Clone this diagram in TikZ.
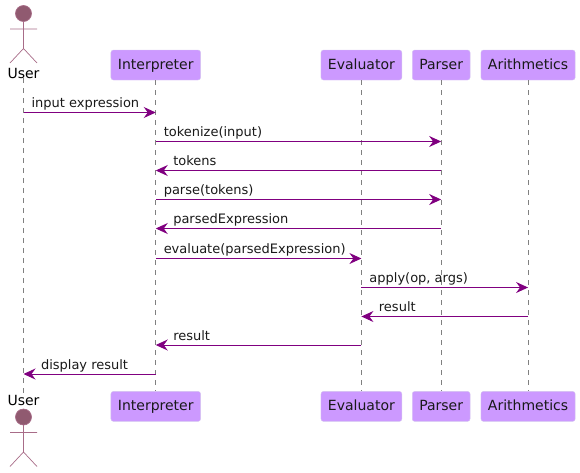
\documentclass[tikz,border=0pt]{standalone}
\usepackage{fontspec}
\setmainfont{DejaVu Sans}
\usetikzlibrary{positioning,arrows.meta}
\definecolor{msgcol}{HTML}{800080}
\definecolor{boxcol}{HTML}{CC99FF}
\definecolor{boxline}{HTML}{D4C4F0}
\definecolor{actorcol}{HTML}{905A70}
\definecolor{actorline}{HTML}{A86C88}
\definecolor{lifecol}{HTML}{808080}

\begin{document}
\begin{tikzpicture}[x=1pt, y=-1pt, font=\fontsize{13}{15}\selectfont,
        partbox/.style={draw=boxline, fill=boxcol, rectangle, rounded corners=2.5pt, minimum height=30pt, inner xsep=7pt, inner ysep=0pt, text height=11pt, text depth=2pt, text=black!90, font=\fontsize{14}{16}\selectfont},
        lifeline/.style={draw=lifecol, dash pattern=on 5pt off 5pt, line width=0.7pt},
        msg/.style={draw=msgcol, line width=1pt, -{Stealth[length=12pt, width=11pt, inset=4pt]}},
        msgtext/.style={text=black!90, anchor=base west, inner sep=0pt},
        actorfig/.pic={
            \draw[draw=actorline, fill=actorcol, line width=0.7pt] (0,0) circle (8pt);
            \draw[draw=actorline, line width=0.7pt] (0,8) -- (0,35) (-13.5,15.5) -- (13.5,15.5) (-13.5,49.5) -- (0,35) -- (13.5,49.5);
        }
    ]
        \useasboundingbox (0,0) rectangle (580,472);

        % top row
        \node [partbox] (inter) at (155.75,65) {Interpreter};
        \node [partbox, right=120pt of inter] (eval) {Evaluator};
        \node [partbox, right=10pt of eval] (pars) {Parser};
        \node [partbox, right=10.5pt of pars] (arit) {Arithmetics};
        \node [inner sep=0pt, anchor=base, font=\fontsize{14}{16}\selectfont] (user) at (23.5,78) {User};
        \pic at (23.5,13.5) {actorfig};

        % bottom row
        \node [partbox, below=311pt of inter] (inter2) {Interpreter};
        \node [partbox, below=311pt of eval] (eval2) {Evaluator};
        \node [partbox, below=311pt of pars] (pars2) {Parser};
        \node [partbox, below=311pt of arit] (arit2) {Arithmetics};
        \node [inner sep=0pt, anchor=base, font=\fontsize{14}{16}\selectfont] (user2) at (23.5,405) {User};
        \pic at (23.5,417) {actorfig};

        % lifelines
        \draw [lifeline] (user.south) -- (user2.north);
        \draw [lifeline] (inter.south) -- (inter2.north);
        \draw [lifeline] (eval.south) -- (eval2.north);
        \draw [lifeline] (pars.south) -- (pars2.north);
        \draw [lifeline] (arit.south) -- (arit2.north);

        % messages
        \draw [msg] (user |- 0,112.5) -- node[msgtext, pos=0, xshift=7.5pt, yshift=5pt] {input expression} (inter |- 0,112.5);
        \draw [msg] (inter |- 0,141.5) -- node[msgtext, pos=0, xshift=7.5pt, yshift=5pt] {tokenize(input)} (pars |- 0,141.5);
        \draw [msg] (pars |- 0,170.5) -- node[msgtext, pos=1, xshift=17pt, yshift=5pt] {tokens} (inter |- 0,170.5);
        \draw [msg] (inter |- 0,199.5) -- node[msgtext, pos=0, xshift=7.5pt, yshift=5pt] {parse(tokens)} (pars |- 0,199.5);
        \draw [msg] (pars |- 0,228.5) -- node[msgtext, pos=1, xshift=17pt, yshift=5pt] {parsedExpression} (inter |- 0,228.5);
        \draw [msg] (inter |- 0,258.5) -- node[msgtext, pos=0, xshift=7.5pt, yshift=5pt] {evaluate(parsedExpression)} (eval |- 0,258.5);
        \draw [msg] (eval |- 0,287.5) -- node[msgtext, pos=0, xshift=7.5pt, yshift=5pt] {apply(op, args)} (arit |- 0,287.5);
        \draw [msg] (arit |- 0,316.5) -- node[msgtext, pos=1, xshift=17pt, yshift=5pt] {result} (eval |- 0,316.5);
        \draw [msg] (eval |- 0,345) -- node[msgtext, pos=1, xshift=17pt, yshift=5pt] {result} (inter |- 0,345);
        \draw [msg] (inter |- 0,374) -- node[msgtext, pos=1, xshift=17pt, yshift=5pt] {display result} (user |- 0,374);
    \end{tikzpicture}
\end{document}
